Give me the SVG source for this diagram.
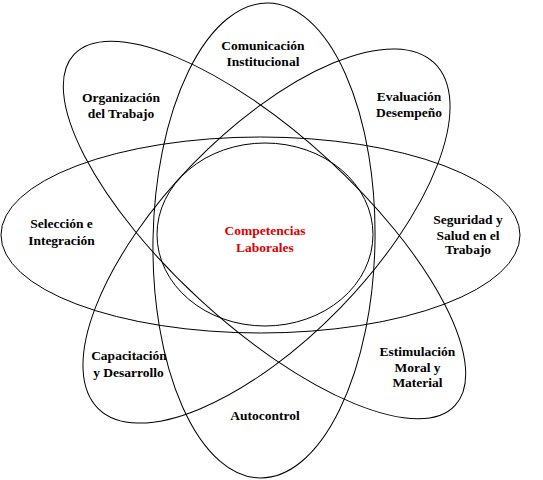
<svg xmlns="http://www.w3.org/2000/svg" width="543" height="480" viewBox="0 0 543 480">
<style>
.sh{fill:none;stroke:#000;stroke-width:1}
.t{font-family:"Liberation Serif","Times New Roman",serif;font-weight:bold;font-size:13.5px;fill:#000;text-anchor:middle}
.r{fill:#e00000}
</style>
<rect width="543" height="480" fill="#fff"/>
<g id="connectors">
<ellipse class="sh" cx="264" cy="240.5" rx="111" ry="237.5" transform="rotate(1 264 240.5)"/>
<ellipse class="sh" cx="260.5" cy="235" rx="259.5" ry="98"/>
<ellipse class="sh" cx="264.5" cy="230" rx="259" ry="95" transform="rotate(42.6 264.5 230)"/>
<ellipse class="sh" cx="266.5" cy="236" rx="241" ry="103" transform="rotate(-45.8 266.5 236)"/>
</g>
<g id="center">
<ellipse class="sh" cx="265" cy="234.5" rx="108" ry="91.5"/>
<text class="t r" x="265" y="235">Competencias</text>
<text class="t r" x="265" y="252">Laborales</text>
</g>
<g id="n-comunicacion"><text class="t" x="263" y="49.5">Comunicación</text><text class="t" x="263" y="66">Institucional</text></g>
<g id="n-organizacion"><text class="t" x="121" y="101.5">Organización</text><text class="t" x="121" y="117.5">del Trabajo</text></g>
<g id="n-evaluacion"><text class="t" x="409" y="101">Evaluación</text><text class="t" x="409" y="117">Desempeño</text></g>
<g id="n-seleccion"><text class="t" x="61.5" y="228">Selección e</text><text class="t" x="61.5" y="245">Integración</text></g>
<g id="n-seguridad"><text class="t" x="468" y="224">Seguridad y</text><text class="t" x="468" y="239.5">Salud en el</text><text class="t" x="468" y="254">Trabajo</text></g>
<g id="n-capacitacion"><text class="t" x="129" y="360">Capacitación</text><text class="t" x="128.5" y="376.5">y Desarrollo</text></g>
<g id="n-autocontrol"><text class="t" x="265" y="420">Autocontrol</text></g>
<g id="n-estimulacion"><text class="t" x="417.5" y="356">Estimulación</text><text class="t" x="417.5" y="371.5">Moral y</text><text class="t" x="417.5" y="387">Material</text></g>
</svg>
